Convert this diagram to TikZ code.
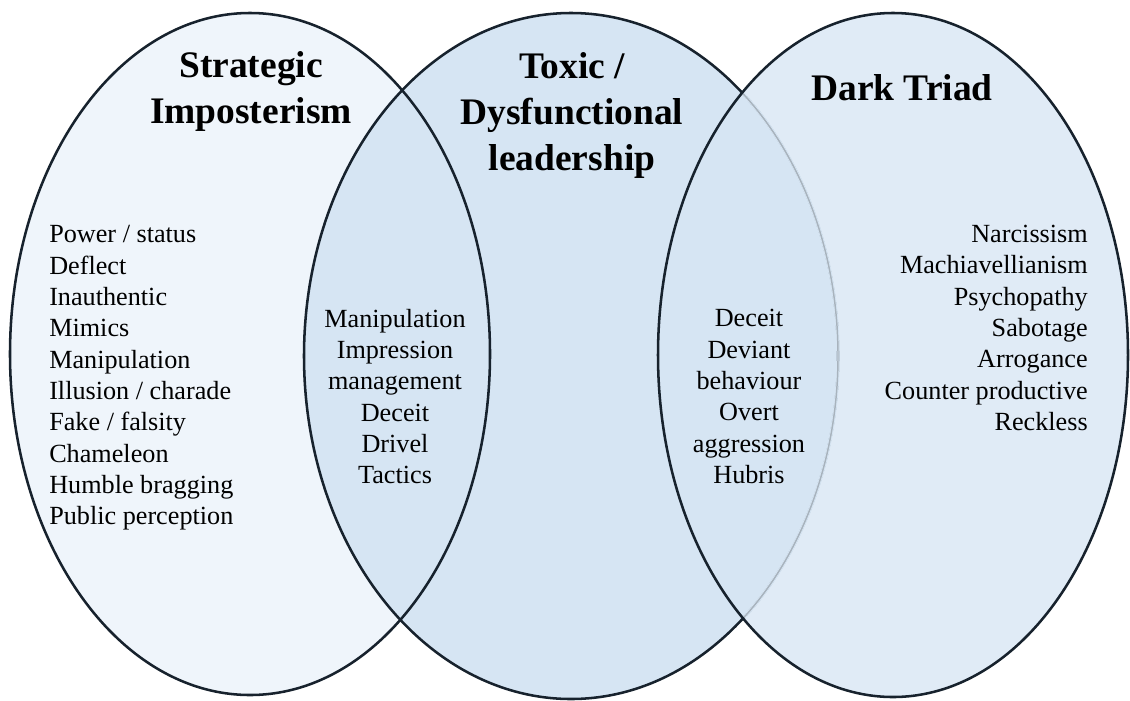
\documentclass[tikz,border=0pt]{standalone}
\usepackage{fontspec}
\setmainfont{Liberation Serif}
\definecolor{leftfill}{HTML}{EFF5FB}
\definecolor{midfill}{HTML}{D6E5F3}
\definecolor{rightfill}{HTML}{E0EBF6}
\definecolor{edge}{HTML}{17222D}
\definecolor{inner}{HTML}{A8B3BD}
\begin{document}
\begin{tikzpicture}[x=0.75pt,y=-0.75pt,
	ring/.style={line width=1.9pt,draw=edge},
	heading/.style={align=center,inner sep=0pt,font=\fontsize{28.1}{34.5}\selectfont\bfseries},
	terms/.style={inner sep=0pt,font=\fontsize{19.65}{23.5}\selectfont}]
\useasboundingbox (0,0) rectangle (1130,700);
% fills
\fill[leftfill] (250,354) ellipse [x radius=240,y radius=341];
\fill[rightfill] (893,355) ellipse [x radius=235,y radius=342];
\fill[midfill] (571,356) ellipse [x radius=267,y radius=343];
% outlines
\draw[ring] (250,354) ellipse [x radius=240,y radius=341];
\draw[ring] (571,356) ellipse [x radius=267,y radius=343];
\begin{scope}
\clip (893,355) ellipse [x radius=235,y radius=342];
\draw[line width=2.6pt,draw=midfill] (571,356) ellipse [x radius=267,y radius=343];
\draw[line width=1.1pt,draw=inner] (571,356) ellipse [x radius=267,y radius=343];
\end{scope}
\draw[ring] (893,355) ellipse [x radius=235,y radius=342];
% headings
\node[heading] (strategic) at (251,91) {Strategic\\Imposterism};
\node[heading] (toxic) at (572,115) {Toxic /\\Dysfunctional\\leadership};
\node[heading,anchor=base] (dark) at (902,100) {Dark Triad};
% terms
\node[terms,align=left,anchor=west] (imposter) at (49,378) {Power / status\\Deflect\\Inauthentic\\Mimics\\Manipulation\\Illusion / charade\\Fake / falsity\\Chameleon\\Humble bragging\\Public perception};
\node[terms,align=center] (sharedleft) at (395,396.5) {Manipulation\\Impression\\management\\Deceit\\Drivel\\Tactics};
\node[terms,align=center] (sharedright) at (749,396.5) {Deceit\\Deviant\\behaviour\\Overt\\aggression\\Hubris};
\node[terms,align=right,anchor=east] (triad) at (1088,328) {Narcissism\\Machiavellianism\\Psychopathy\\Sabotage\\Arrogance\\Counter productive\\Reckless};
\end{tikzpicture}
\end{document}
